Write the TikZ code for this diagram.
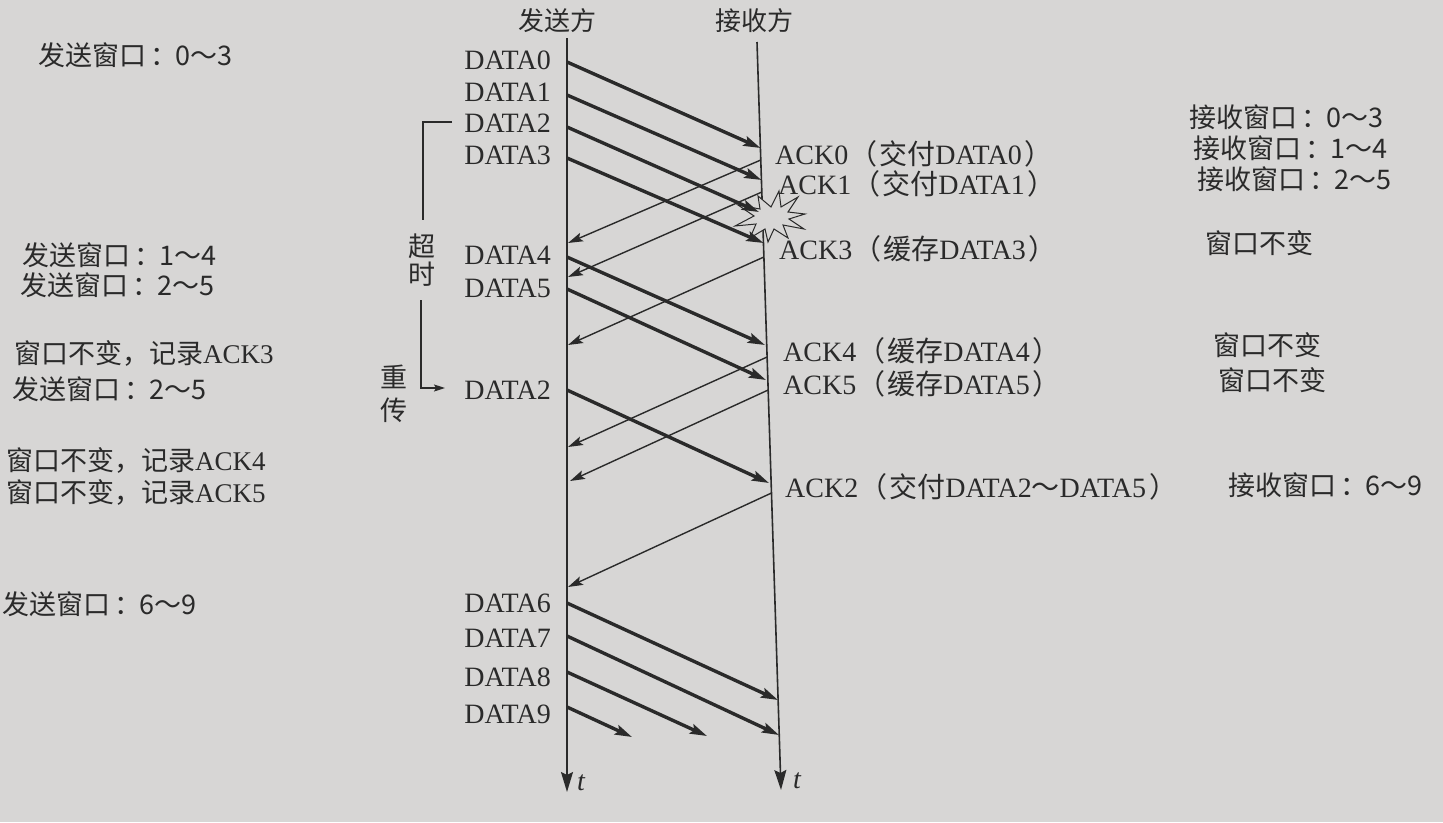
\documentclass[tikz,border=0pt]{standalone}
\usepackage{fontspec}
\setmainfont{Liberation Serif}
\newfontfamily\cjk{Noto Sans CJK SC}
\usetikzlibrary{arrows.meta}
\definecolor{paper}{RGB}{215,214,213}
\definecolor{ink}{RGB}{42,42,42}
\newcommand{\zh}[1]{{\cjk #1}}
\newcommand{\lp}{{\cjk \kern1pt（\kern2pt}}
\newcommand{\rp}{{\cjk \kern3pt）}}
\newcommand{\cln}{\kern0.15em：\kern-0.05em}
\tikzset{
  lbl/.style={inner sep=0pt, text=ink, font=\fontsize{28}{30}\selectfont},
  zhl/.style={inner sep=0pt, text=ink, font=\fontsize{27}{30}\selectfont\cjk},
  tl/.style={inner sep=0pt, text=ink, font=\fontsize{28}{30}\selectfont\itshape},
  dataarr/.style={draw=ink, line width=3.4pt, -{Stealth[length=17pt,width=10pt,inset=3pt]}},
  ackarr/.style={draw=ink, line width=1.4pt, -{Stealth[length=15pt,width=9pt,inset=3pt]}},
  axisarr/.style={draw=ink, line width=1.6pt, -{Stealth[length=20pt,width=12pt,inset=3pt]}},
  brk/.style={draw=ink, line width=1.3pt},
  burst/.style={draw=ink, line width=1pt, fill=paper, line join=miter},
}
\begin{document}
\begin{tikzpicture}[x=1pt,y=-1pt]
\fill[paper] (0,0) rectangle (1443,822);
\useasboundingbox (0,0) rectangle (1443,822);

% headers
\node[zhl, font=\fontsize{26}{28}\selectfont\cjk, anchor=base] (hs) at (557,30) {发送方};
\node[zhl, font=\fontsize{26}{28}\selectfont\cjk, anchor=base] (hr) at (754,30) {接收方};

% axes
\coordinate (sTop) at (567,38);
\coordinate (sBot) at (567,792);
\coordinate (rTop) at (757,42);
\coordinate (rBot) at (781,790);
\draw[axisarr] (sTop) -- (sBot);
\draw[axisarr] (rTop) -- (rBot);
\node[tl, anchor=base west] (ts) at (577,790) {t};
\node[tl, anchor=base west] (tr) at (793,788) {t};

% explosion (lost DATA2)
\draw[burst] (805,214) -- (788,212) -- (798,197) -- (781,207) -- (779,191) -- (771,207)
  -- (758,196) -- (760,209) -- (738,205) -- (754,216) -- (735,226) -- (756,224)
  -- (750,238) -- (765,229) -- (768,242) -- (774,229) -- (788,238) -- (783,225)
  -- (804,229) -- (789,219) -- cycle;

% sender labels
\node[lbl, anchor=base east] (D0) at (551,69) {DATA0};
\node[lbl, anchor=base east] (D1) at (551,101) {DATA1};
\node[lbl, anchor=base east] (D2) at (551,132) {DATA2};
\node[lbl, anchor=base east] (D3) at (551,164) {DATA3};
\node[lbl, anchor=base east] (D4) at (551,264) {DATA4};
\node[lbl, anchor=base east] (D5) at (551,297) {DATA5};
\node[lbl, anchor=base east] (D2r) at (551,399) {DATA2};
\node[lbl, anchor=base east] (D6) at (551,612) {DATA6};
\node[lbl, anchor=base east] (D7) at (551,647) {DATA7};
\node[lbl, anchor=base east] (D8) at (551,686) {DATA8};
\node[lbl, anchor=base east] (D9) at (551,723) {DATA9};

% arrow end points
\coordinate (s0) at (567,62);   \coordinate (r0) at (760.5,148);
\coordinate (s1) at (567,95);   \coordinate (r1) at (761.5,180);
\coordinate (s2) at (567,127);  \coordinate (r2) at (759,212);
\coordinate (s3) at (567,158);  \coordinate (r3) at (763.5,243);
\coordinate (s4) at (567,257);  \coordinate (r4) at (765,345);
\coordinate (s5) at (567,289);  \coordinate (r5) at (766,380);
\coordinate (s2r) at (567,390); \coordinate (r2r) at (769,483);
\coordinate (s6) at (567,603);  \coordinate (r6) at (778,700);
\coordinate (s7) at (567,636);  \coordinate (r7) at (779,735);
\coordinate (s8) at (567,672);  \coordinate (e8) at (707,736);
\coordinate (s9) at (567,707);  \coordinate (e9) at (632,737);

\coordinate (ra0) at (760.8,160); \coordinate (sa0) at (568,243);
\coordinate (ra1) at (761.9,192); \coordinate (sa1) at (568,277);
\coordinate (ra3) at (763.9,257); \coordinate (sa3) at (568,345);
\coordinate (ra4) at (767.1,357); \coordinate (sa4) at (568,447);
\coordinate (ra5) at (768.2,390); \coordinate (sa5) at (570,481);
\coordinate (ra2) at (771.5,493); \coordinate (sa2) at (568,587);

% data arrows
\draw[dataarr] (s0) -- (r0);
\draw[dataarr] (s1) -- (r1);
\draw[dataarr] (s2) -- (r2);
\draw[dataarr] (s3) -- (r3);
\draw[dataarr] (s4) -- (r4);
\draw[dataarr] (s5) -- (r5);
\draw[dataarr] (s2r) -- (r2r);
\draw[dataarr] (s6) -- (r6);
\draw[dataarr] (s7) -- (r7);
\draw[dataarr] (s8) -- (e8);
\draw[dataarr] (s9) -- (e9);

% ack arrows
\draw[ackarr] (ra0) -- (sa0);
\draw[ackarr] (ra1) -- (sa1);
\draw[ackarr] (ra3) -- (sa3);
\draw[ackarr] (ra4) -- (sa4);
\draw[ackarr] (ra5) -- (sa5);
\draw[ackarr] (ra2) -- (sa2);

% receiver labels
\node[lbl, anchor=base west] (A0) at (775,164) {ACK0\lp\zh{交付}DATA0\rp};
\node[lbl, anchor=base west] (A1) at (778,194) {ACK1\lp\zh{交付}DATA1\rp};
\node[lbl, anchor=base west] (A3) at (779,259) {ACK3\lp\zh{缓存}DATA3\rp};
\node[lbl, anchor=base west] (A4) at (783,361) {ACK4\lp\zh{缓存}DATA4\rp};
\node[lbl, anchor=base west] (A5) at (783,394) {ACK5\lp\zh{缓存}DATA5\rp};
\node[lbl, anchor=base west] (A2) at (785,497) {ACK2\lp\zh{交付}DATA2\zh{～}DATA5\rp};

% timeout bracket
\coordinate (bTop) at (452,122);
\coordinate (bCorner) at (423,122);
\coordinate (bMid) at (423,220);
\coordinate (bLow) at (421,300);
\coordinate (bEnd) at (445,388);
\draw[brk] (bTop) -- (bCorner) -- (bMid);
\draw[brk, -{Stealth[length=11pt,width=7pt,inset=2pt]}] (bLow) |- (bEnd);
\node[zhl, anchor=center] (chao) at (422,246) {超};
\node[zhl, anchor=center] (shi) at (422,274) {时};
\node[zhl, anchor=center] (zhong) at (394,377) {重};
\node[zhl, anchor=center] (chuan) at (394,410) {传};

% sender window notes
\node[zhl, anchor=base west] (w0) at (38,65) {发送窗口\cln 0～3};
\node[zhl, anchor=base west] (w1) at (22,265) {发送窗口\cln 1～4};
\node[zhl, anchor=base west] (w2) at (20,295) {发送窗口\cln 2～5};
\node[zhl, anchor=base west] (w3) at (14,363) {窗口不变，记录{\rmfamily ACK3}};
\node[zhl, anchor=base west] (w4) at (12,399) {发送窗口\cln 2～5};
\node[zhl, anchor=base west] (w5) at (6,470) {窗口不变，记录{\rmfamily ACK4}};
\node[zhl, anchor=base west] (w6) at (6,502) {窗口不变，记录{\rmfamily ACK5}};
\node[zhl, anchor=base west] (w7) at (2,614) {发送窗口\cln 6～9};

% receiver window notes
\node[zhl, anchor=base west] (v0) at (1189,127) {接收窗口\cln 0～3};
\node[zhl, anchor=base west] (v1) at (1193,158) {接收窗口\cln 1～4};
\node[zhl, anchor=base west] (v2) at (1197,189) {接收窗口\cln 2～5};
\node[zhl, anchor=base west] (v3) at (1205,253) {窗口不变};
\node[zhl, anchor=base west] (v4) at (1213,355) {窗口不变};
\node[zhl, anchor=base west] (v5) at (1218,390) {窗口不变};
\node[zhl, anchor=base west] (v6) at (1228,495) {接收窗口\cln 6～9};
\end{tikzpicture}
\end{document}
